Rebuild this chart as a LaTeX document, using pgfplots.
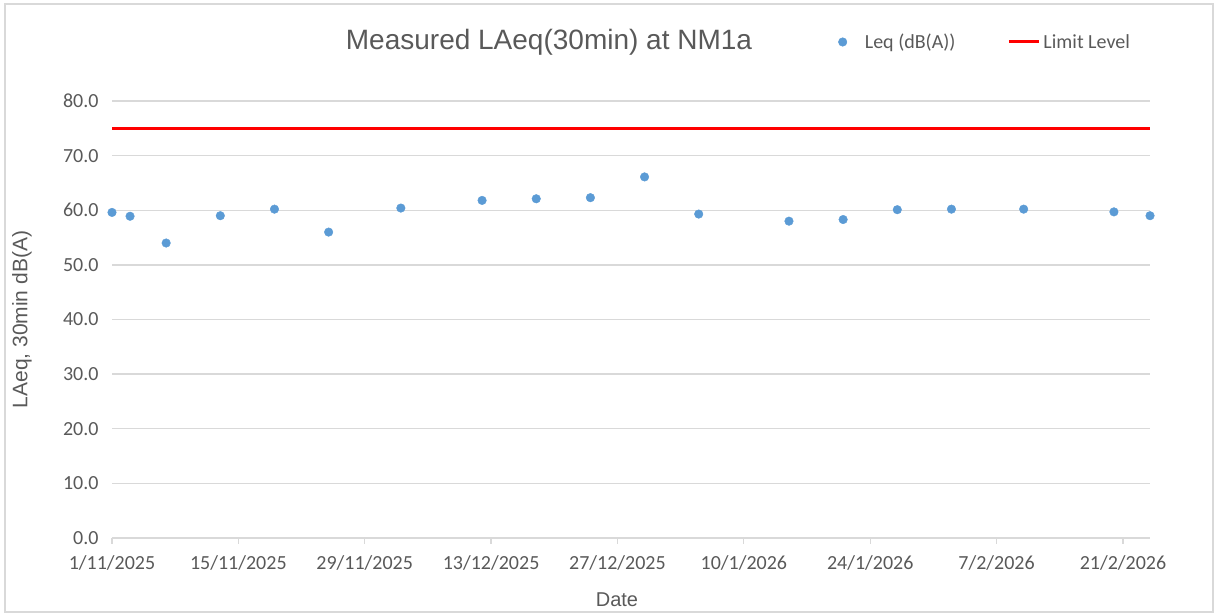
\documentclass[border=0pt]{standalone}
\usepackage{fontspec}
\setmainfont{Carlito}
\newfontfamily\arialfont{Liberation Sans}
\usepackage{pgfplots}
\pgfplotsset{compat=1.18}
\definecolor{ptblue}{HTML}{5B9BD5}
\definecolor{txtgray}{HTML}{595959}
\definecolor{gridgray}{HTML}{D9D9D9}
\definecolor{limred}{HTML}{FF0000}
\begin{document}
\begin{tikzpicture}[x=1bp,y=1bp]
\useasboundingbox (0,0) rectangle (1218,616);
\draw[draw=gridgray, line width=1.5bp] (5,4) rectangle (1213,612);
\begin{axis}[
  at={(112bp,78bp)}, anchor=south west,
  scale only axis, width=1038bp, height=437bp,
  xmin=0, xmax=115, ymin=0, ymax=80,
  clip=false,
  axis x line*=bottom, axis y line*=left,
  y axis line style={draw=none},
  x axis line style={draw=gridgray, line width=1.3bp},
  xtick={0,14,...,112},
  xticklabels={1/11/2025,15/11/2025,29/11/2025,13/12/2025,27/12/2025,10/1/2026,24/1/2026,7/2/2026,21/2/2026},
  ytick={0,10,...,80},
  yticklabel={\pgfmathprintnumber[fixed,fixed zerofill,precision=1,assume math mode=true]{\tick}},
  /pgf/number format/assume math mode=true,
  ymajorgrids, grid style={draw=gridgray, line width=1.3bp},
  tick align=outside,
  xtick style={draw=gridgray, line width=1.3bp},
  ytick style={draw=none},
  major tick length=6bp,
  ticklabel style={font=\fontsize{20bp}{24bp}\selectfont, text=txtgray},
  yticklabel style={xshift=-4bp},
  xticklabel style={yshift=-8bp},
  xlabel={Date},
  xlabel style={at={(axis description cs:0.4865,-0.142)}, anchor=center, font=\arialfont\fontsize{20bp}{24bp}\selectfont, text=txtgray},
  ylabel={LAeq, 30min dB(A)},
  ylabel style={at={(axis description cs:-0.0867,0.5)}, anchor=center, font=\arialfont\fontsize{21bp}{25bp}\selectfont, text=txtgray},
  title={Measured LAeq(30min) at NM1a},
  title style={at={(axis description cs:0.421,1.121)}, anchor=center, font=\arialfont\fontsize{28bp}{32bp}\selectfont, text=txtgray},
  legend style={at={(axis description cs:0.6965,1.135)}, anchor=west, draw=none, fill=none,
    font=\fontsize{20bp}{24bp}\selectfont, text=txtgray, legend columns=2,
    /tikz/every even column/.append style={column sep=50bp}},
  legend cell align=left,
]
\addplot[only marks, mark=*, mark size=4.3bp, mark options={fill=ptblue, draw=ptblue},
  legend image code/.code={\fill[ptblue] (8bp,0bp) circle (4.3bp); \path (28bp,0bp);}]
  table {
x y
0 59.6
2 58.9
6 54.0
12 59.0
18 60.2
24 56.0
32 60.4
41 61.8
47 62.1
53 62.3
59 66.1
65 59.3
75 58.0
81 58.3
87 60.1
93 60.2
101 60.2
111 59.7
115 59.0
};
\addlegendentry{Leq (dB(A))}
\addplot[draw=limred, line width=3bp,
  legend image code/.code={\draw[limred, line width=3bp] (0bp,0bp) -- (30bp,0bp); \path (31bp,0bp);}]
  coordinates {(0,75) (115,75)};
\addlegendentry{Limit Level}
\end{axis}
\end{tikzpicture}
\end{document}
